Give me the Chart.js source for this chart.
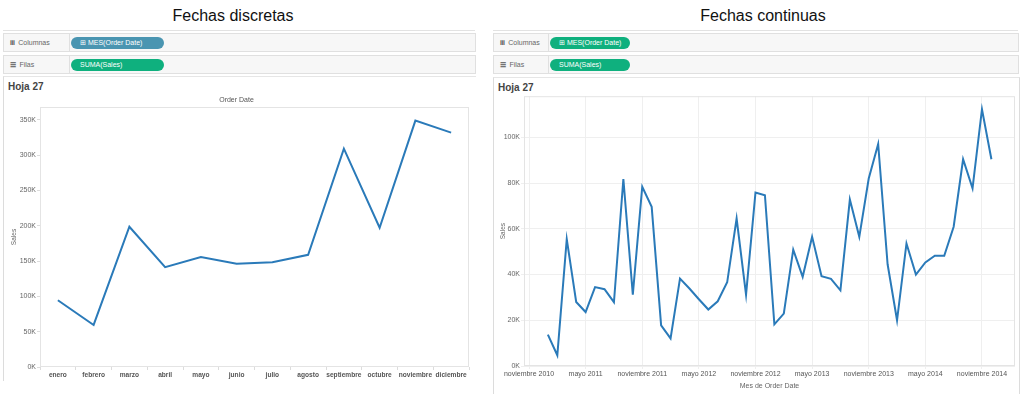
<!DOCTYPE html>
<html>

<head>
  <meta charset="utf-8">
  <title>Fechas discretas vs continuas</title>
  <style>
    body { margin: 0; width: 1024px; height: 394px; background: #fff; position: relative; overflow: hidden; font-family: "Liberation Sans", Arial, sans-serif; }
    .abs { position: absolute; }
    .titulo { font-size: 16px; color: #111; top: 7px; transform: translateX(-50%); white-space: nowrap; }
    .barra { border-top: 1px solid #e2e2e2; height: 3px; }
    .fila { background: #f7f7f7; border: 1px solid #e0e0e0; height: 17px; }
    .fila .nombre { position: absolute; left: 0; top: 0; height: 17px; border-right: 1px solid #e0e0e0; font-size: 7px; color: #666; line-height: 17px; padding-left: 6px; box-sizing: border-box; }
    .fila .icono { color: #555; font-weight: bold; letter-spacing: -0.5px; }
    .pastilla { position: absolute; top: 3px; height: 12px; border-radius: 6px; color: #fff; font-size: 7px; line-height: 12px; padding-left: 9px; box-sizing: border-box; white-space: nowrap; }
    .hoja { border-left: 1px solid #dcdcdc; border-top: 1px solid #e6e6e6; }
    .hoja .nombreHoja { position: absolute; left: 4px; top: 4px; font-size: 10px; font-weight: bold; color: #444; }
  </style>
</head>

<body>
  <!-- panel izquierdo -->
  <div class="abs titulo" style="left:233px">Fechas discretas</div>
  <div class="abs barra" style="left:3px; top:30px; width:472px"></div>
  <div class="abs fila" style="left:3px; top:33px; width:471px">
    <div class="nombre" style="width:66px"><span class="icono">iii</span>&nbsp; Columnas</div>
    <div class="pastilla" style="left:67px; width:93px; background:#4a95b1">&#8862; MES(Order Date)</div>
  </div>
  <div class="abs fila" style="left:3px; top:55px; width:471px">
    <div class="nombre" style="width:66px"><span class="icono">&#9776;</span>&nbsp; Filas</div>
    <div class="pastilla" style="left:67px; width:93px; background:#0fb07e">SUMA(Sales)</div>
  </div>
  <div class="abs hoja" style="left:3px; top:76px; width:472px; height:304px">
    <div class="nombreHoja">Hoja 27</div>
  </div>
  <div class="abs" style="left:4px; top:94px; width:470px; height:289px"><canvas id="graficoDiscreto"></canvas></div>

  <!-- panel derecho -->
  <div class="abs titulo" style="left:763px">Fechas continuas</div>
  <div class="abs barra" style="left:493px; top:30px; width:525px"></div>
  <div class="abs fila" style="left:493px; top:33px; width:524px">
    <div class="nombre" style="width:55px"><span class="icono">iii</span>&nbsp; Columnas</div>
    <div class="pastilla" style="left:56px; width:80px; background:#0fb07e">&#8862; MES(Order Date)</div>
  </div>
  <div class="abs fila" style="left:493px; top:55px; width:524px">
    <div class="nombre" style="width:55px"><span class="icono">&#9776;</span>&nbsp; Filas</div>
    <div class="pastilla" style="left:56px; width:80px; background:#0fb07e">SUMA(Sales)</div>
  </div>
  <div class="abs hoja" style="left:493px; top:77px; width:525px; height:317px; border-right:1px solid #dcdcdc">
    <div class="nombreHoja">Hoja 27</div>
  </div>
  <div class="abs" style="left:493px; top:91px; width:525px; height:301px"><canvas id="graficoContinuo"></canvas></div>

  <script src="https://cdn.jsdelivr.net/npm/chart.js"></script>
  <script>
    // Datos (ventas en dolares)
    const mesesDiscretos = ['enero', 'febrero', 'marzo', 'abril', 'mayo', 'junio', 'julio',
      'agosto', 'septiembre', 'octubre', 'noviembre', 'diciembre'];
    const ventasPorMes = [94500, 59500, 198500, 141300, 155500, 146000, 148400,
      158800, 309100, 197100, 348800, 331800];

    // ventas mensuales de enero 2011 a diciembre 2014
    const ventas2011 = [13700, 4700, 55500, 28000, 23600, 34500, 33600, 27900, 81800, 31200, 78400, 69600];
    const ventas2012 = [17800, 12100, 38200, 33900, 29200, 24700, 28300, 36600, 64500, 31200, 75900, 74700];
    const ventas2013 = [18200, 22900, 50900, 39000, 56500, 39300, 38100, 33100, 72800, 56500, 82000, 97100];
    const ventas2014 = [44500, 20000, 53600, 40000, 45300, 48200, 48200, 60900, 90400, 77700, 112300, 90400];

    // etiquetas del eje continuo: cada 6 meses desde noviembre 2010
    const etiquetasContinuas = ['noviembre 2010', 'mayo 2011', 'noviembre 2011', 'mayo 2012',
      'noviembre 2012', 'mayo 2013', 'noviembre 2013', 'mayo 2014', 'noviembre 2014'];
    const mesPrimeraEtiqueta = -2; // meses respecto a enero 2011
    const pasoEtiquetas = 6;

    const azul = '#2a7ab9';
    const fuente = { family: '"Liberation Sans", Arial, sans-serif', size: 7 };

    // marco gris alrededor del area del grafico
    const marco = {
      id: 'marco',
      beforeDatasetsDraw(chart) {
        const a = chart.chartArea;
        const ctx = chart.ctx;
        ctx.save();
        ctx.strokeStyle = '#e4e4e4';
        ctx.lineWidth = 1;
        ctx.strokeRect(a.left + 0.5, a.top + 0.5, a.right - a.left - 1, a.bottom - a.top - 1);
        ctx.restore();
      }
    };

    const formatoK = (v) => (v / 1000) + 'K';

    function montarDiscreto() {
      new Chart(document.getElementById('graficoDiscreto'), {
        type: 'line',
        data: {
          labels: mesesDiscretos,
          datasets: [{ data: ventasPorMes, borderColor: azul, borderWidth: 2, pointRadius: 0, tension: 0 }]
        },
        options: {
          responsive: true, maintainAspectRatio: false, animation: false,
          layout: { padding: { right: 5, left: 0, top: 0, bottom: 0 } },
          plugins: {
            legend: { display: false }, tooltip: { enabled: false },
            title: { display: true, text: 'Order Date', color: '#555', font: { ...fuente, weight: 'normal' }, padding: { top: 2, bottom: 2.6 } }
          },
          scales: {
            x: {
              offset: true,
              grid: { offset: true, drawOnChartArea: false, tickLength: 3, color: '#dcdcdc' },
              border: { display: false },
              ticks: { color: '#555', font: { ...fuente, size: 6.6, weight: 'bold' }, padding: 1, autoSkip: false, maxRotation: 0 },
              afterFit: (s) => { s.height = 16; }
            },
            y: {
              min: 0, max: 368000,
              afterBuildTicks: (s) => { s.ticks = [0, 50000, 100000, 150000, 200000, 250000, 300000, 350000].map(v => ({ value: v })); },
              grid: { drawOnChartArea: false, tickLength: 3, color: '#dcdcdc' },
              border: { display: false },
              ticks: { color: '#666', font: fuente, padding: 1, callback: formatoK },
              title: { display: true, text: 'Sales', color: '#666', font: { ...fuente, size: 6.5 }, padding: { top: 6, bottom: 0 } },
              afterFit: (s) => { s.width = 36; }
            }
          }
        },
        plugins: [marco]
      });
    }

    function montarContinuo() {
      const ventas = [].concat(ventas2011, ventas2012, ventas2013, ventas2014);
      const puntos = ventas.map((v, i) => ({ x: i, y: v }));
      new Chart(document.getElementById('graficoContinuo'), {
        type: 'line',
        data: {
          datasets: [{ data: puntos, borderColor: azul, borderWidth: 2, pointRadius: 0, tension: 0 }]
        },
        options: {
          responsive: true, maintainAspectRatio: false, animation: false,
          layout: { padding: { right: 3, left: 0, top: 5, bottom: 0 } },
          plugins: { legend: { display: false }, tooltip: { enabled: false } },
          scales: {
            x: {
              type: 'linear', min: -2.53, max: 49.5,
              afterBuildTicks: (s) => {
                s.ticks = etiquetasContinuas.map((_, i) => ({ value: mesPrimeraEtiqueta + pasoEtiquetas * i }));
              },
              grid: { color: '#efefef', tickLength: 3 },
              border: { display: false },
              ticks: { color: '#555', font: fuente, padding: 1, autoSkip: false, maxRotation: 0,
                callback: (v, i) => etiquetasContinuas[i] },
              title: { display: true, text: 'Mes de Order Date', color: '#666', font: fuente, padding: { top: 0, bottom: 2 } },
              afterFit: (s) => { s.height = 26; }
            },
            y: {
              min: 0, max: 118000,
              afterBuildTicks: (s) => { s.ticks = [0, 20000, 40000, 60000, 80000, 100000].map(v => ({ value: v })); },
              grid: { color: '#efefef', tickLength: 3 },
              border: { display: false },
              ticks: { color: '#666', font: fuente, padding: 1, callback: formatoK },
              title: { display: true, text: 'Sales', color: '#666', font: { ...fuente, size: 6.5 }, padding: { top: 6, bottom: 0 } },
              afterFit: (s) => { s.width = 31; }
            }
          }
        },
        plugins: [marco]
      });
    }

    montarDiscreto();
    montarContinuo();
  </script>
</body>
</html>
